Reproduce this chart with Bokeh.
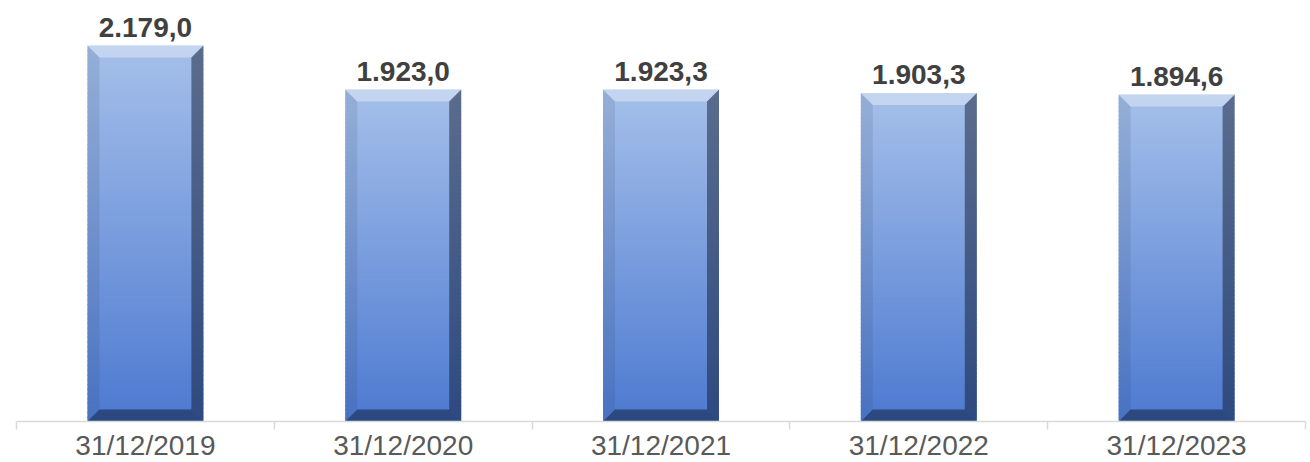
from bokeh.plotting import figure
from bokeh.models import Range1d, FixedTicker
from bokeh.core.properties import value
from bokeh.embed import file_html
from bokeh.resources import INLINE

categories = ["31/12/2019", "31/12/2020", "31/12/2021", "31/12/2022", "31/12/2023"]
values = [2179.0, 1923.0, 1923.3, 1903.3, 1894.6]

FRAME_W = 1289
FRAME_H = 421
Y_MAX = 2439.0
BAR_W = 0.45
BEVEL_PX = 12
N_BANDS = 80

TOP_RGB = (166, 192, 234)
BOT_RGB = (77, 122, 209)

n = len(categories)
px_x = FRAME_W / n            # pixels per x unit
px_y = FRAME_H / Y_MAX        # pixels per y unit
bx = BEVEL_PX / px_x
by = BEVEL_PX / px_y


def fmt(v):
    s = f"{v:,.1f}"
    return s.replace(",", "X").replace(".", ",").replace("X", ".")


p = figure(frame_width=FRAME_W, frame_height=FRAME_H,
           x_range=Range1d(0, n), y_range=Range1d(0, Y_MAX),
           output_backend="svg", toolbar_location=None,
           min_border_left=16, min_border_right=5, min_border_top=0,
           min_border_bottom=0, y_axis_location=None)
p.outline_line_color = None
p.xgrid.visible = False
p.ygrid.visible = False
p.background_fill_color = "white"
p.border_fill_color = "white"

# gradient face
left, right, bottom, top, colors = [], [], [], [], []
overlap = 1.2 / px_y
for i, v in enumerate(values):
    cx = i + 0.5
    for k in range(N_BANDS):
        t0 = k / N_BANDS
        t1 = (k + 1) / N_BANDS
        tm = (t0 + t1) / 2
        r = int(TOP_RGB[0] + (BOT_RGB[0] - TOP_RGB[0]) * tm)
        g = int(TOP_RGB[1] + (BOT_RGB[1] - TOP_RGB[1]) * tm)
        b = int(TOP_RGB[2] + (BOT_RGB[2] - TOP_RGB[2]) * tm)
        left.append(cx - BAR_W / 2)
        right.append(cx + BAR_W / 2)
        top.append(v * (1 - t0))
        bottom.append(max(0.0, v * (1 - t1) - overlap))
        colors.append(f"#{r:02x}{g:02x}{b:02x}")
p.quad(left=left, right=right, bottom=bottom, top=top, fill_color=colors,
       line_color=None)

# bevels
def bevels(side):
    xs, ys = [], []
    for i, v in enumerate(values):
        x0 = i + 0.5 - BAR_W / 2
        x1 = i + 0.5 + BAR_W / 2
        y0, y1 = 0.0, v
        if side == "top":
            xs.append([x0, x1, x1 - bx, x0 + bx]); ys.append([y1, y1, y1 - by, y1 - by])
        elif side == "bottom":
            xs.append([x0, x1, x1 - bx, x0 + bx]); ys.append([y0, y0, y0 + by, y0 + by])
        elif side == "left":
            xs.append([x0, x0 + bx, x0 + bx, x0]); ys.append([y0, y0 + by, y1 - by, y1])
        else:
            xs.append([x1, x1 - bx, x1 - bx, x1]); ys.append([y0, y0 + by, y1 - by, y1])
    return xs, ys

for side, col, alpha in [("left", "#283850", 0.12), ("right", "#101a30", 0.5),
                         ("top", "#ffffff", 0.35), ("bottom", "#0a1530", 0.5)]:
    xs, ys = bevels(side)
    p.patches(xs, ys, fill_color=col, fill_alpha=alpha, line_color=None)

# value labels
p.text(x=[i + 0.5 for i in range(n)], y=[v + 18 / px_y for v in values],
       text=[fmt(v) for v in values], text_align="center", text_baseline="alphabetic",
       text_font=value("Liberation Sans"), text_font_style="bold",
       text_font_size="28px", text_color="#404040")

ax = p.xaxis[0]
ax.ticker = FixedTicker(ticks=[i + 0.5 for i in range(n)], minor_ticks=list(range(n + 1)))
ax.major_label_overrides = {i + 0.5: c for i, c in enumerate(categories)}
ax.major_tick_out = 0
ax.major_tick_in = 0
ax.minor_tick_out = 8
ax.minor_tick_in = 0
ax.minor_tick_line_color = "#d9d9d9"
ax.minor_tick_line_width = 1.5
ax.axis_line_color = "#d9d9d9"
ax.axis_line_width = 1.5
ax.major_label_standoff = 0
ax.major_label_text_font = "Liberation Sans"
ax.major_label_text_font_size = "28px"
ax.major_label_text_color = "#595959"

open("out.html", "w").write(file_html(p, INLINE))
